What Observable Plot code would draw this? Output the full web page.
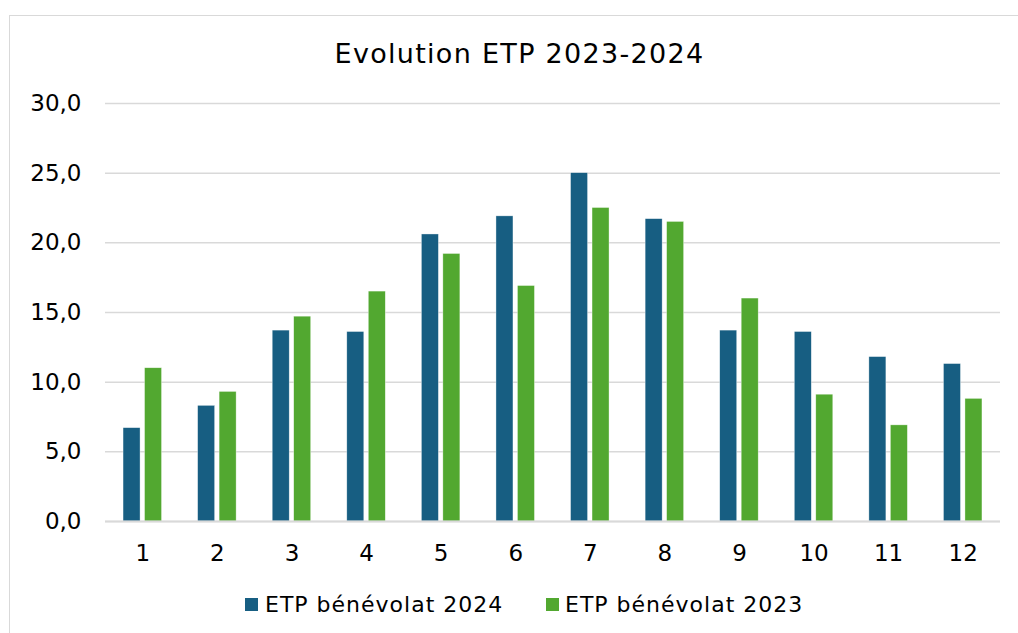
<!DOCTYPE html>
<html>
<head>
<meta charset="utf-8">
<script src="https://cdn.jsdelivr.net/npm/d3@7"></script>
<script src="https://cdn.jsdelivr.net/npm/@observablehq/plot@0.6"></script>
<style>
  html, body { margin: 0; padding: 0; background: #fff; }
  body { width: 1018px; height: 633px; position: relative; overflow: hidden; font-family: "DejaVu Sans", Verdana, sans-serif; }
  #frame { position: absolute; left: 9px; top: 15px; width: 1100px; height: 700px; border: 1.5px solid #d9d9d9; box-sizing: border-box; }
  #title { position: absolute; left: 0; top: 40px; width: 1039px; text-align: center; font-size: 27px; line-height: 27px; letter-spacing: 1.3px; color: #000; white-space: nowrap; }
  #chart { position: absolute; left: 0; top: 0; }
  .sw { position: absolute; width: 13px; height: 13px; top: 598px; }
  .lt { position: absolute; top: 594px; font-size: 22px; line-height: 21px; letter-spacing: 1px; color: #000; white-space: nowrap; }
</style>
</head>
<body>
<div id="frame"></div>
<div id="chart"></div>
<div id="title">Evolution ETP 2023-2024</div>
<div id="legend"></div>
<script>
const months = [1, 2, 3, 4, 5, 6, 7, 8, 9, 10, 11, 12];
const etp2024 = [6.7, 8.3, 13.7, 13.6, 20.6, 21.9, 25.0, 21.7, 13.7, 13.6, 11.8, 11.3];
const etp2023 = [11.0, 9.3, 14.7, 16.5, 19.2, 16.9, 22.5, 21.5, 16.0, 9.1, 6.9, 8.8];
const yTicks = [0, 5, 10, 15, 20, 25, 30];
const seriesNames = ["ETP bénévolat 2024", "ETP bénévolat 2023"];
const colors = ["#175E82", "#52A830"];

const d2024 = months.map((m, i) => ({month: m, value: etp2024[i]}));
const d2023 = months.map((m, i) => ({month: m, value: etp2023[i]}));

const W = 1018, ML = 105, MR = 18;
const step = (W - ML - MR) / months.length;
const pi = 0.484;
const bw = step * (1 - pi);
const barW = 17;
const inset = bw - barW;

const chart = Plot.plot({
  width: W,
  height: 570,
  marginLeft: ML,
  marginRight: MR,
  marginTop: 103,
  marginBottom: 49,
  style: {fontFamily: "DejaVu Sans, Verdana, sans-serif", color: "#000", background: "transparent"},
  x: {type: "band", domain: months, paddingInner: pi, paddingOuter: pi / 2, round: false, label: null},
  y: {domain: [0, 30], label: null},
  marks: [
    Plot.ruleY(yTicks, {stroke: "#d9d9d9", strokeWidth: 1.5}),
    Plot.barY(d2024, {x: "month", y: "value", fill: colors[0], insetRight: inset, stroke: "#ffffff", strokeWidth: 0.6, strokeOpacity: 0.6}),
    Plot.barY(d2023, {x: "month", y: "value", fill: colors[1], insetLeft: inset, stroke: "#ffffff", strokeWidth: 0.6, strokeOpacity: 0.6}),
    Plot.ruleY([0], {stroke: "#d9d9d9", strokeWidth: 2}),
    Plot.axisY({ticks: yTicks, tickSize: 0, tickPadding: 24, fontSize: 23, tickFormat: d => d.toFixed(1).replace(".", ","), label: null}),
    Plot.axisX({tickSize: 0, tickPadding: 23, fontSize: 23, label: null})
  ]
});
document.getElementById("chart").appendChild(chart);

const legend = document.getElementById("legend");
const swX = [245, 546];
const txX = [265, 565];
seriesNames.forEach((name, i) => {
  const s = document.createElement("div");
  s.className = "sw";
  s.style.left = swX[i] + "px";
  s.style.background = colors[i];
  legend.appendChild(s);
  const t = document.createElement("div");
  t.className = "lt";
  t.style.left = txX[i] + "px";
  t.textContent = name;
  legend.appendChild(t);
});
</script>
</body>
</html>
